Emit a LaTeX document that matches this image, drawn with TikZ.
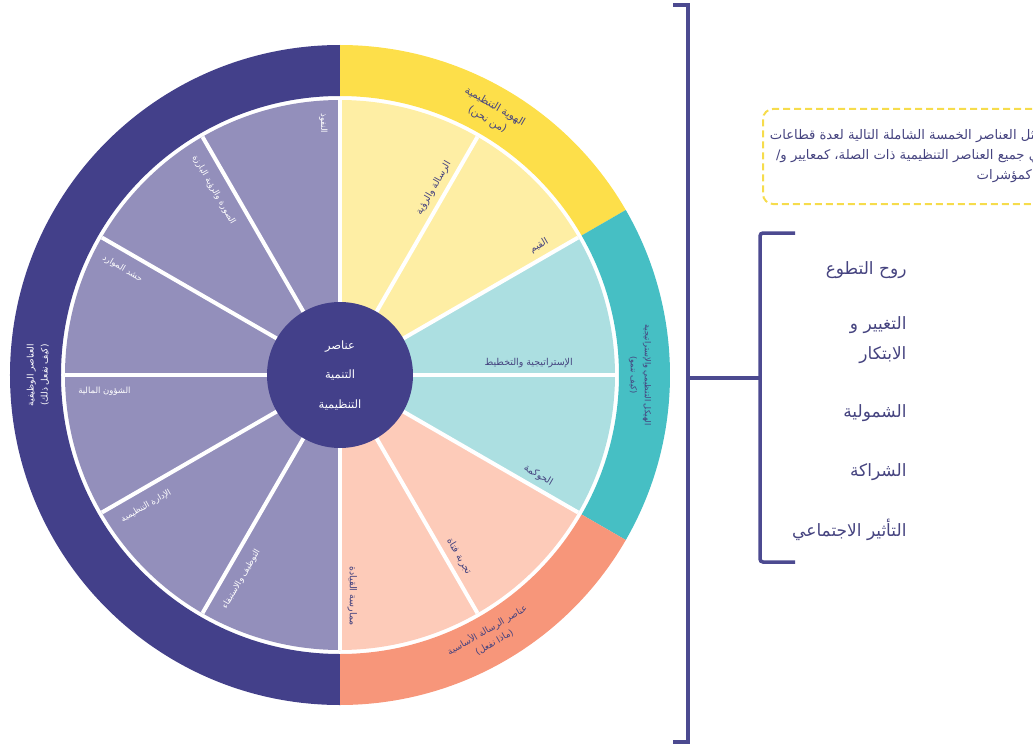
\documentclass[tikz,border=0pt]{standalone}
\usepackage{fontspec}
\newfontfamily\arabicfont[Script=Arabic]{DejaVu Sans}
\TeXXeTstate=1
\usetikzlibrary{calc}
\definecolor{ringpurple}{HTML}{43408A}
\definecolor{segpurple}{HTML}{938FBB}
\definecolor{ringyellow}{HTML}{FDDF4A}
\definecolor{segyellow}{HTML}{FEEEA4}
\definecolor{ringteal}{HTML}{46BFC4}
\definecolor{segteal}{HTML}{ACDFE1}
\definecolor{ringorange}{HTML}{F7967A}
\definecolor{segorange}{HTML}{FDCBB9}
\definecolor{ink}{HTML}{45437F}
\definecolor{notedash}{HTML}{F6DC4C}
\tikzset{
  every node/.style={text=ink},
  spoke/.style={draw=white,line width=4pt},
  hub/.style={circle,fill=ringpurple,minimum size=146pt,inner sep=0pt,align=center,text=white,
    font=\fontsize{11.5}{29.5}\selectfont\arabicfont},
  ringlabel/.style={align=center,inner sep=2pt,font=\fontsize{9}{14}\selectfont\arabicfont},
  seglabel/.style={inner sep=3pt,font=\fontsize{8.5}{11}\selectfont\arabicfont},
  segleft/.style={seglabel,text=white,anchor=north west},
  segright/.style={seglabel,anchor=south east,font=\fontsize{9.5}{12}\selectfont\arabicfont},
  bracket/.style={draw=ringpurple!95!white,line width=3.5pt},
  item/.style={anchor=east,align=right,font=\fontsize{17}{30}\selectfont\arabicfont},
  notebox/.style={draw=notedash,line width=2pt,dash pattern=on 7pt off 4pt,rounded corners=10pt,
    align=right,minimum width=290pt,minimum height=95pt,
    font=\fontsize{13.2}{20}\selectfont\arabicfont},
}
\newcommand{\arline}[1]{\beginR #1\endR}
% coloured band of the outer ring: colour, from angle, to angle
\newcommand{\ringband}[3]{\fill[#1] (#2:330) arc[start angle=#2,end angle=#3,radius=330]
  -- (#3:279) arc[start angle=#3,end angle=#2,radius=279] -- cycle;}
% pale wedge of the inner disc
\newcommand{\discwedge}[3]{\fill[#1] (0,0) -- (#2:275) arc[start angle=#2,end angle=#3,radius=275] -- cycle;}

\begin{document}
\begin{tikzpicture}[x=1pt,y=1pt]
  \clip (-340,-370) rectangle (693,375);

  % outer ring
  \ringband{ringpurple}{90}{270}
  \ringband{ringyellow}{30}{90}
  \ringband{ringteal}{-30}{30}
  \ringband{ringorange}{-90}{-30}

  % inner disc
  \discwedge{segpurple}{90}{270}
  \discwedge{segyellow}{30}{90}
  \discwedge{segteal}{-30}{30}
  \discwedge{segorange}{-90}{-30}
  \foreach \a in {0,30,...,330} \draw[spoke] (0,0) -- (\a:275);

  \node[hub] (hub) at (0,0) {\arline{عناصر}\\\arline{التنمية}\\\arline{التنظيمية}};

  % ring titles
  \node[ringlabel,rotate=-30,font=\fontsize{10.5}{15}\selectfont\arabicfont] (identity) at (60:302) {\arline{الهوية التنظيمية}\\\arline{(من نحن)}};
  \node[ringlabel,rotate=-90,font=\fontsize{8.2}{14}\selectfont\arabicfont] (structure) at (0:300) {\arline{الهيكل التنظيمي والإستراتيجية}\\\arline{(كيف ننمو)}};
  \node[ringlabel,rotate=30] (mission) at (-60:301) {\arline{عناصر الرسالة الأساسية}\\\arline{(ماذا نفعل)}};
  \node[ringlabel,rotate=90,text=white] (functions) at (180:302) {\arline{العناصر الوظيفية}\\\arline{(كيف نفعل ذلك)}};

  % wedge labels, right half
  \node[segright,rotate=60] (vision) at (61:242) {\arline{الرسالة والرؤية}};
  \node[segright,rotate=30] (values) at (31:250) {\arline{القيم}};
  \node[segright,rotate=0] (strategy) at (1:236) {\arline{الإستراتيجية والتخطيط}};
  \node[segright,rotate=-30] (governance) at (-29:241) {\arline{الحوكمة}};
  \node[segright,rotate=-60] (experience) at (-59:240) {\arline{تجربة فتاة}};
  \node[segright,rotate=-90] (leadership) at (-89:254) {\arline{ممارسة القيادة}};

  % wedge labels, left half
  \node[segleft,rotate=-90] (influence) at (92:265) {\arline{النفوذ}};
  \node[segleft,rotate=-60] (image) at (122:266) {\arline{الصورة والرؤية البارزة}};
  \node[segleft,rotate=-30] (resources) at (152:267) {\arline{حشد الموارد}};
  \node[segleft,rotate=0] (finance) at (182:265) {\arline{الشؤون المالية}};
  \node[segleft,rotate=30] (management) at (212:265) {\arline{الإدارة التنظيمية}};
  \node[segleft,rotate=60] (staffing) at (242:263) {\arline{التوظيف والاستبقاء}};

  % brackets on the right
  \coordinate (spine) at (348,-3);
  \coordinate (hook) at (420,-3);
  \draw[bracket] (333,370) -- (348,370) -- (348,-367) -- (333,-367);
  \draw[bracket] (spine) -- (hook);
  \draw[bracket,rounded corners=3pt] (455,142) -- (420,142) -- (420,-187) -- (455,-187);

  \node[notebox,anchor=north west] (note) at (422,267)
    {\arline{تمثل العناصر الخمسة الشاملة التالية لعدة قطاعات}\\
     \arline{في جميع العناصر التنظيمية ذات الصلة، كمعايير و/}\\
     \arline{أو كمؤشرات}};

  \node[item] (volunteer) at (570,105) {\arline{روح التطوع}};
  \node[item] (innovation) at (570,35) {\arline{التغيير و}\\\arline{الابتكار}};
  \node[item] (inclusion) at (570,-38) {\arline{الشمولية}};
  \node[item] (partnership) at (570,-97) {\arline{الشراكة}};
  \node[item] (impact) at (570,-155) {\arline{التأثير الاجتماعي}};
\end{tikzpicture}
\end{document}
